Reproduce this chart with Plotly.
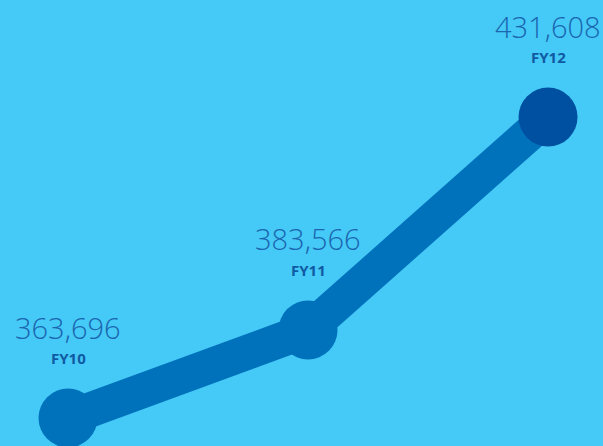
import plotly.graph_objects as go

categories = ["FY10", "FY11", "FY12"]
values = [363696, 383566, 431608]
value_labels = ["363,696", "383,566", "431,608"]

bg = "#45C9F6"
line_color = "#0072BC"
last_color = "#0050A2"
marker_colors = [line_color, line_color, last_color]

fig = go.Figure()
fig.add_trace(go.Scatter(
    x=categories, y=values, mode="lines+markers",
    line=dict(color=line_color, width=35),
    marker=dict(size=59, color=marker_colors, line=dict(width=0)),
    cliponaxis=False, hoverinfo="skip",
))

for c, v, lab in zip(categories, values, value_labels):
    fig.add_annotation(x=c, y=v, text=lab, showarrow=False, yshift=91,
                       font=dict(family="Open Sans", size=29, color="#1A66B0", weight=300),
                       xanchor="center", yanchor="middle")
    fig.add_annotation(x=c, y=v, text="<b>" + c + "</b>", showarrow=False, yshift=60,
                       font=dict(family="Open Sans", size=15, color="#0F5AA3"),
                       xanchor="center", yanchor="middle")

fig.update_layout(
    width=603, height=446,
    margin=dict(l=0, r=0, t=0, b=0),
    paper_bgcolor=bg, plot_bgcolor=bg,
    showlegend=False,
    xaxis=dict(type="category", range=[-0.2833, 2.229], visible=False, fixedrange=True),
    yaxis=dict(range=[357377, 458031], visible=False, fixedrange=True),
)
fig.write_html("out.html", config={"displayModeBar": False},
               post_script="document.body.style.margin='0';document.body.style.overflow='hidden';document.body.style.background='" + bg + "';")
